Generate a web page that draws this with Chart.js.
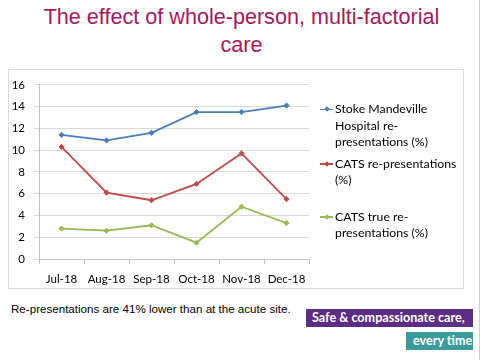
<!DOCTYPE html>
<html><head><meta charset="utf-8">
<script src="https://cdn.jsdelivr.net/npm/chart.js@4/dist/chart.umd.min.js"></script>
<style>
html,body{margin:0;padding:0}
body{width:483px;height:360px;background:#fff;position:relative;overflow:hidden;font-family:"Liberation Sans",Arial,sans-serif}
#title{position:absolute;left:0;top:3px;width:483px;text-align:center;color:#a3195b;font-size:21.6px;line-height:28px}
#frame{position:absolute;left:8px;top:69px;width:456px;height:220px;border:1px solid #d9d9d9;box-sizing:border-box}
#wrap{position:absolute;left:8px;top:69px;width:455px;height:219px}
#legend{position:absolute;left:320px;top:101px;width:145px;font-family:Lato,"Liberation Sans",sans-serif;font-size:12.3px;line-height:16.5px;color:#000;white-space:nowrap}
.item{position:relative;padding-left:15px}
.item:nth-child(2){margin-top:5px}
.item:nth-child(3){margin-top:20px}
.sw{position:absolute;left:0;top:7.5px;width:13px;height:1.5px}
.sw i{position:absolute;left:4.5px;top:-1.5px;width:4px;height:4px;transform:rotate(45deg)}
#note{position:absolute;left:11px;top:302px;font-size:11.6px;color:#000;white-space:nowrap}
#b1{position:absolute;left:306px;top:309px;width:167px;height:18px;background:#5c2d82;color:#fff;font-family:Lato,sans-serif;font-weight:bold;font-size:12.6px;line-height:18px;text-indent:6px;white-space:nowrap}
#b2{position:absolute;left:406px;top:332px;width:67px;height:18px;background:#3c9a9b;color:#fff;font-family:Lato,sans-serif;font-weight:bold;font-size:12.6px;line-height:18px;text-indent:7px;white-space:nowrap}
#edge{position:absolute;left:479px;top:0;width:1px;height:360px;background:#d0d0d0}
</style>
</head><body>
<div id="title">The effect of whole-person, multi-factorial<br>care</div>
<div id="frame"></div>
<div id="wrap"><canvas id="c" width="455" height="219"></canvas></div>
<div id="legend"></div>
<div id="note">Re-presentations are 41% lower than at the acute site.</div>
<div id="b1">Safe &amp; compassionate care,</div>
<div id="b2">every time</div>
<div id="edge"></div>
<script>
const categories = ["Jul-18","Aug-18","Sep-18","Oct-18","Nov-18","Dec-18"];
const seriesNames = ["Stoke Mandeville Hospital re-presentations (%)","CATS re-presentations (%)","CATS true re-presentations (%)"];
const legendLines = [["Stoke Mandeville","Hospital re-","presentations (%)"],["CATS re-presentations","(%)"],["CATS true re-","presentations (%)"]];
const stokeValues = [11.4, 10.9, 11.6, 13.5, 13.5, 14.1];
const catsValues = [10.3, 6.1, 5.4, 6.9, 9.7, 5.5];
const catsTrueValues = [2.8, 2.6, 3.1, 1.5, 4.8, 3.3];
const yTicks = [0,2,4,6,8,10,12,14,16];
const colors = ["#4a7ebb","#be4b48","#98b954"];

const allValues = [stokeValues, catsValues, catsTrueValues];
const datasets = allValues.map((v,i)=>({
  label: seriesNames[i], data: v,
  borderColor: colors[i], backgroundColor: colors[i],
  borderWidth: 1.8, pointStyle: 'rectRot', pointRadius: 2.6,
  pointBorderWidth: 1, tension: 0
}));

new Chart(document.getElementById('c'), {
  type: 'line',
  data: { labels: categories, datasets },
  options: {
    responsive: false, animation: false,
    layout: { padding: { top: 12, right: 154, left: 0, bottom: 0 } },
    plugins: { legend: { display: false }, tooltip: { enabled: false } },
    scales: {
      x: {
        offset: true,
        grid: { offset: true, drawOnChartArea: false, tickLength: 5, color: '#bfbfbf' },
        border: { color: '#bfbfbf' },
        ticks: { font: { family: 'Lato', size: 11.5 }, color: '#000', padding: 8, maxRotation: 0, autoSkip: false },
        afterFit: s => { s.height = 29; }
      },
      y: {
        min: 0, max: 16,
        afterBuildTicks: s => { s.ticks = yTicks.map(v => ({ value: v })); },
        grid: { color: '#d9d9d9', tickLength: 5 },
        border: { color: '#bfbfbf' },
        ticks: { font: { family: 'Lato', size: 11.5 }, color: '#000', padding: 9 },
        afterFit: s => { s.width = 31; }
      }
    }
  }
});

const lg = document.getElementById('legend');
legendLines.forEach((lines,i)=>{
  const d = document.createElement('div'); d.className='item';
  const sw = document.createElement('span'); sw.className='sw'; sw.style.background=colors[i];
  const m = document.createElement('i'); m.style.background=colors[i]; sw.appendChild(m);
  d.appendChild(sw);
  lines.forEach((t,j)=>{ if(j) d.appendChild(document.createElement('br')); d.appendChild(document.createTextNode(t)); });
  lg.appendChild(d);
});
</script>
</body></html>
